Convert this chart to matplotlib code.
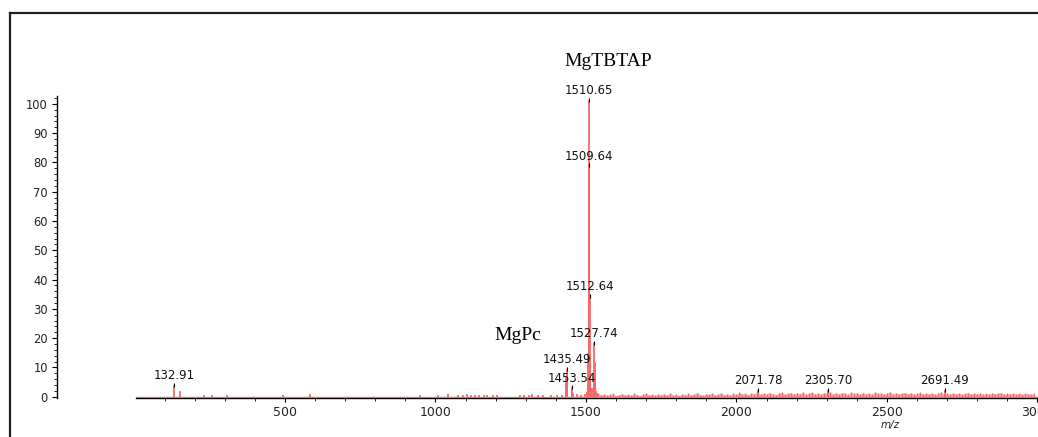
import numpy as np
import matplotlib
matplotlib.use("Agg")
import matplotlib.pyplot as plt
from matplotlib.lines import Line2D
from matplotlib.ticker import MultipleLocator

# centroid peaks (m/z, relative abundance)
peak_mz = [132.91, 150, 232, 257, 307, 493, 584, 949, 1010, 1040,
           1075, 1090, 1105, 1118, 1130, 1145, 1160, 1172, 1190, 1204,
           1281, 1295, 1310, 1322, 1340, 1358, 1385, 1403, 1420,
           1433.5, 1434.5, 1435.49, 1436.5, 1437.5, 1438.5,
           1452.5, 1453.54, 1454.5, 1455.5, 1470, 1485, 1498, 1503,
           1506.6, 1507.6, 1508.6, 1509.64, 1510.65, 1511.65, 1512.64,
           1513.6, 1514.6, 1515.6, 1518, 1521,
           1526.7, 1527.74, 1528.7, 1529.7, 1532, 1536,
           2071.78, 2305.70, 2691.49]
peak_int = [3.9, 2.0, 0.5, 0.6, 0.5, 0.6, 0.8, 0.5, 0.6, 1.0,
            0.7, 0.6, 0.8, 0.6, 0.7, 0.5, 0.6, 0.7, 0.5, 0.6,
            0.7, 0.5, 0.6, 0.8, 0.6, 0.5, 0.5, 0.7, 0.6,
            3.0, 7.0, 9.5, 8.0, 5.0, 2.0,
            2.2, 3.2, 2.6, 1.2, 0.8, 0.6, 0.9, 1.5,
            4.0, 15.0, 52.0, 79.0, 101.5, 78.0, 34.5,
            14.0, 6.0, 3.0, 2.5, 3.0,
            9.0, 18.4, 12.0, 5.0, 2.0, 1.4,
            2.4, 2.4, 2.3]

# baseline noise, every 10 units from 1540 to 2990
noise_start, noise_step = 1540, 10
noise_int = [1.2, 0.6, 0.9, 0.5, 0.8, 1.1, 0.4, 0.7, 1.0, 0.6,
             0.8, 0.5, 1.1, 0.7, 0.4, 0.9, 1.2, 0.6, 0.8, 0.5,
             0.9, 0.7, 1.0, 0.5, 1.3, 0.6, 0.8, 0.4, 1.0, 0.7,
             1.1, 0.6, 0.9, 1.4, 0.7, 0.5, 1.0, 0.8, 1.2, 0.6,
             0.9, 1.3, 0.7, 1.0, 0.6, 1.2, 0.8, 1.5, 0.9, 1.1,
             0.7, 1.3, 1.0, 1.6, 0.8, 1.2, 0.9, 1.4, 1.0, 0.7,
             1.2, 1.5, 0.8, 1.1, 1.4, 0.9, 1.3, 1.0, 1.6, 0.8,
             1.2, 1.5, 1.0, 1.3, 0.9, 1.4, 1.1, 1.7, 0.9, 1.3,
             1.0, 1.4, 1.2, 0.8, 1.5, 1.1, 1.3, 0.9, 1.4, 1.0,
             1.2, 0.9, 1.5, 1.1, 1.3, 0.8, 1.2, 1.6, 1.0, 1.3,
             0.9, 1.2, 1.4, 1.0, 1.3, 0.8, 1.1, 1.5, 0.9, 1.2,
             1.0, 1.3, 0.8, 1.2, 1.5, 1.0, 1.1, 0.9, 1.3, 1.0,
             1.2, 0.8, 1.1, 1.4, 0.9, 1.2, 1.0, 1.3, 0.8, 1.1,
             1.0, 1.3, 0.9, 1.2, 1.4, 0.8, 1.1, 1.0, 1.2, 0.9,
             1.1, 0.8, 1.2, 1.0, 0.9, 1.1]

label_mz = [132.91, 1435.49, 1453.54, 1509.64, 1510.65, 1512.64,
            1527.74, 2071.78, 2305.70, 2691.49]

red = "#f46a6a"

fig = plt.figure(figsize=(10.38, 4.37), dpi=100, facecolor="white")
ax = fig.add_axes([136 / 1038, 39 / 437, 902 / 1038, 302 / 437])

# spectrum
noise_mz = noise_start + noise_step * np.arange(len(noise_int))
ax.fill_between(noise_mz, noise_int, 0, color=red, lw=0, alpha=0.55, zorder=3)
ax.vlines(noise_mz, 0, noise_int, color=red, lw=0.9, zorder=3)
ax.vlines(peak_mz, 0, peak_int, color=red, lw=1.3, zorder=3)
ax.axhline(0, color=red, lw=1.0, zorder=3)

# peak labels
lookup = dict(zip(peak_mz, peak_int))
for mz in label_mz:
    h = lookup[mz]
    ax.plot(mz, h, marker="|", color="black", ms=2.5, mew=0.8, zorder=4)
    ax.annotate(f"{mz:.2f}", (mz, h), xytext=(0, 2), textcoords="offset points",
                ha="center", va="bottom", fontsize=8.5, family="DejaVu Sans",
                color="#111111", zorder=5)

ax.set_xlim(5, 3002)
ax.set_ylim(-0.45, 102.7)

for s in ["top", "right"]:
    ax.spines[s].set_visible(False)
ax.spines["left"].set_position(("outward", 57))
ax.spines["left"].set_linewidth(1.0)
ax.spines["bottom"].set_linewidth(1.0)

ax.xaxis.set_major_locator(MultipleLocator(500))
ax.xaxis.set_minor_locator(MultipleLocator(100))
ax.yaxis.set_major_locator(MultipleLocator(10))
ax.yaxis.set_minor_locator(MultipleLocator(2))
ax.set_yticks(np.arange(0, 101, 10))
ax.tick_params(axis="y", which="major", length=3.5, width=0.8, pad=3, labelsize=8.3)
ax.tick_params(axis="y", which="minor", length=2, width=0.6)
ax.tick_params(axis="x", which="major", length=3, width=0.8, pad=3, labelsize=9)
ax.tick_params(axis="x", which="minor", length=2.5, width=0.6)
ax.set_xticks(np.arange(500, 3001, 500))
for lab in ax.get_xticklabels() + ax.get_yticklabels():
    lab.set_color("#222222")

ax.text(2510, -9.6, "m/z", style="italic", fontsize=7.5, ha="center", va="center",
        color="#222222", clip_on=False)

# compound annotations
fig.text(608 / 1038, 1 - 62 / 437, "MgTBTAP", family="Liberation Serif",
         fontsize=14, ha="center", va="center")
fig.text(518 / 1038, 1 - 336 / 437, "MgPc", family="Liberation Serif",
         fontsize=14, ha="center", va="center")

# outer frame
fy = 1 - 13 / 437
fx = 10 / 1038
fig.add_artist(Line2D([fx, 1], [fy, fy], color="#222222", lw=1.6))
fig.add_artist(Line2D([fx, fx], [0, fy], color="#222222", lw=1.6))

fig.savefig("out.png", dpi=100, facecolor="white")
